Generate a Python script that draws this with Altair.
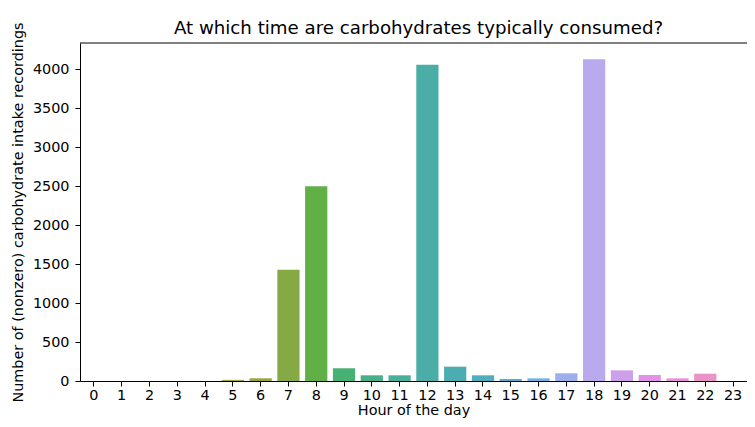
import math
import colorsys
import altair as alt
import pandas as pd

hours = list(range(24))
counts = [0, 0, 0, 0, 0, 15, 35, 1430, 2500, 165, 73, 73, 4060, 184, 73, 26, 34, 99, 4130, 137, 77, 34, 94, 0]

TITLE = "At which time are carbohydrates typically consumed?"
X_TITLE = "Hour of the day"
Y_TITLE = "Number of (nonzero) carbohydrate intake recordings"
Y_TICKS = [0, 500, 1000, 1500, 2000, 2500, 3000, 3500, 4000]

# --- seaborn-like husl palette (l=.7, s=.9, h=.01), desaturated by .75 ---
_M = [[3.2406, -1.5372, -0.4986], [-0.9689, 1.8758, 0.0415], [0.0557, -0.2040, 1.0570]]
_refU, _refV = 0.19784, 0.46834


def _max_chroma(L, H):
    hrad = math.radians(H)
    sinH, cosH = math.sin(hrad), math.cos(hrad)
    sub1 = ((L + 16) ** 3) / 1560896.0
    sub2 = sub1 if sub1 > 0.008856 else (L / 903.3)
    result = float("inf")
    for m1, m2, m3 in _M:
        top = (0.99915 * m1 + 1.05122 * m2 + 1.14460 * m3) * sub2
        rbottom = 0.86330 * m3 - 0.17266 * m2
        lbottom = 0.12949 * m3 - 0.38848 * m1
        bottom = (rbottom * sinH + lbottom * cosH) * sub2
        for t in (0.0, 1.0):
            C = L * (top - 1.05122 * t) / (bottom + 0.17266 * sinH * t)
            if 0.0 < C < result:
                result = C
    return result


def _husl_to_rgb(H, S, L):
    C = _max_chroma(L, H) / 100.0 * S
    U = C * math.cos(math.radians(H))
    V = C * math.sin(math.radians(H))
    t = (L + 16) / 116.0
    Y = t ** 3 if t ** 3 > 0.008856 else (116 * t - 16) / 903.3
    varU = U / (13 * L) + _refU
    varV = V / (13 * L) + _refV
    X = 0 - (9 * Y * varU) / ((varU - 4) * varV - varU * varV)
    Z = (9 * Y - 15 * varV * Y - varV * X) / (3 * varV)
    out = []
    for row in _M:
        c = row[0] * X + row[1] * Y + row[2] * Z
        c = 12.92 * c if c <= 0.0031308 else 1.055 * c ** (1 / 2.4) - 0.055
        out.append(min(max(c, 0.0), 1.0))
    return out


def _palette(n):
    cols = []
    for i in range(n):
        h = ((i / n + 0.01) % 1) * 359
        r, g, b = _husl_to_rgb(h, 90, 70)
        hh, ll, ss = colorsys.rgb_to_hls(r, g, b)
        r, g, b = colorsys.hls_to_rgb(hh, ll, ss * 0.75)
        cols.append("#%02x%02x%02x" % (round(r * 255), round(g * 255), round(b * 255)))
    return cols


colors = _palette(len(hours))

df = pd.DataFrame({"hour": hours, "count": counts})

FONT = "DejaVu Sans"
FS = 14.4

bars = (
    alt.Chart(df)
    .mark_bar()
    .encode(
        x=alt.X(
            "hour:O",
            sort=hours,
            scale=alt.Scale(paddingInner=0.2, paddingOuter=0.1),
            axis=alt.Axis(
                title=X_TITLE,
                labelAngle=0,
                labelFontSize=FS,
                labelColor="black",
                labelPadding=2,
                tickColor="black",
                tickSize=5,
                domainColor="black",
                titleFontSize=FS,
                titleFontWeight="normal",
                titleColor="black",
                titlePadding=2,
            ),
        ),
        y=alt.Y(
            "count:Q",
            scale=alt.Scale(domain=[0, 4340], nice=False),
            axis=alt.Axis(
                title=Y_TITLE,
                values=Y_TICKS,
                format="d",
                grid=False,
                labelFontSize=FS,
                labelColor="black",
                labelPadding=6,
                tickColor="black",
                tickSize=5,
                domainColor="black",
                titleFontSize=FS,
                titleFontWeight="normal",
                titleColor="black",
                titlePadding=7,
            ),
        ),
        color=alt.Color("hour:O", scale=alt.Scale(domain=hours, range=colors), legend=None),
    )
)

# top spine (the right spine lies outside the visible area in the reference)
top_spine = (
    alt.Chart(pd.DataFrame({"k": [0]}))
    .mark_rule(color="black", strokeWidth=1)
    .encode(y=alt.value(0))
)

chart = (
    alt.layer(bars, top_spine)
    .properties(
        width=667,
        height=338,
        title=alt.TitleParams(TITLE, fontSize=18.2, fontWeight="normal", color="black", font=FONT,
                              offset=-16, dx=5, frame="group"),
        padding={"left": 72, "top": 35, "right": 0, "bottom": 38},
        autosize=alt.AutoSizeParams(type="none"),
    )
    .configure(font=FONT)
    .configure_view(stroke=None)
    .configure_axis(labelFont=FONT, titleFont=FONT, domainWidth=1, tickWidth=1)
)

chart.save("out.html", embed_options={"renderer": "svg", "actions": False})
